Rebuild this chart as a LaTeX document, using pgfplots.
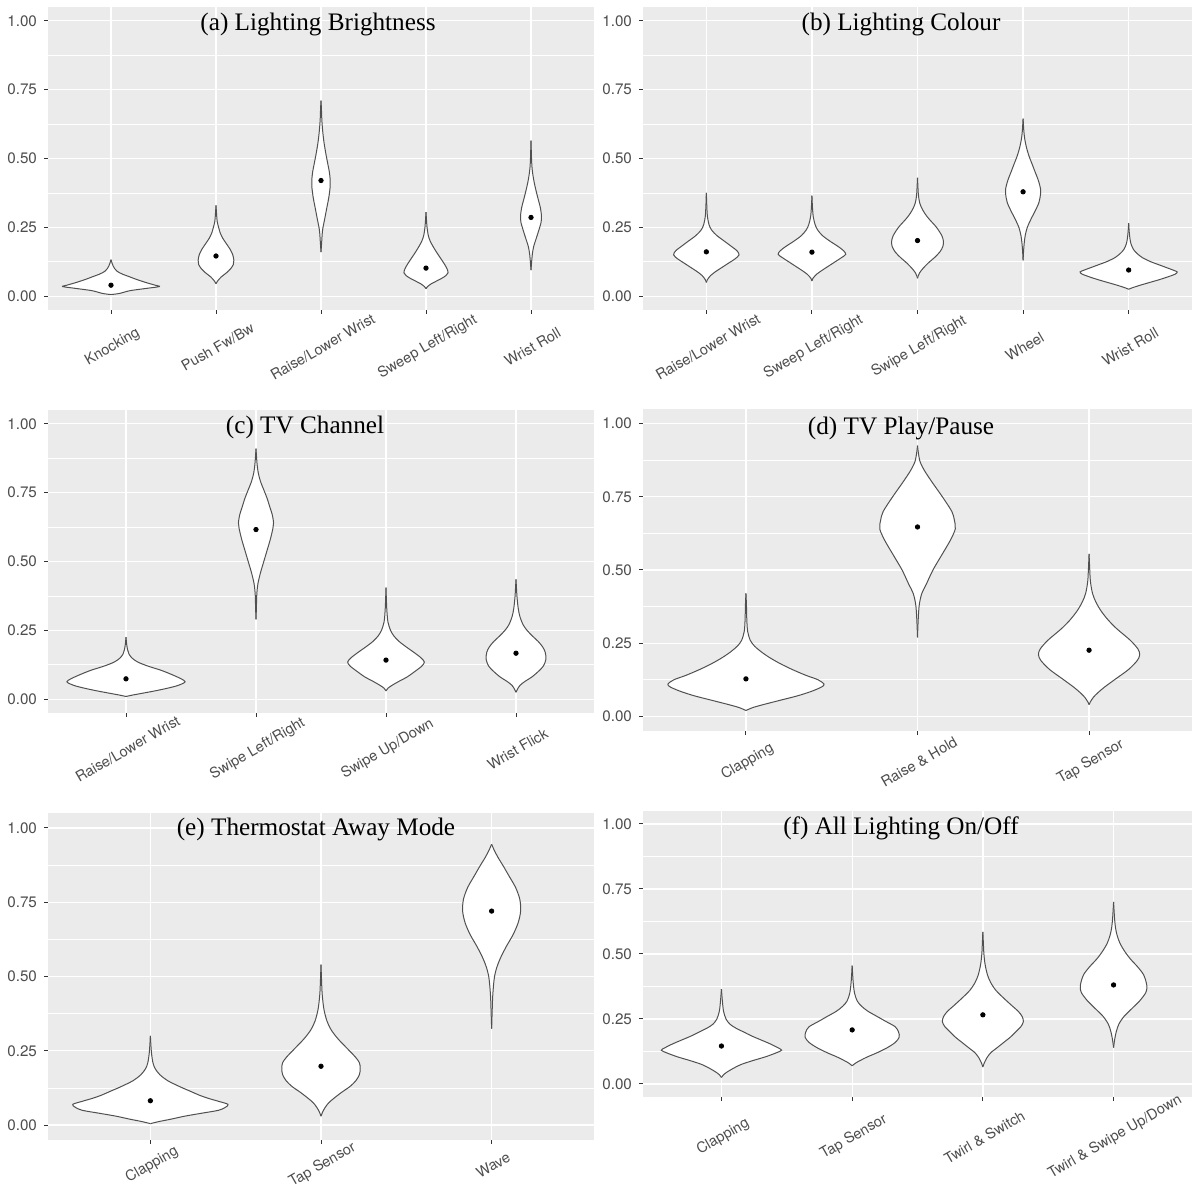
\documentclass[border=0pt]{standalone}
\usepackage{fontspec}
\usepackage{pgfplots}
\usepackage{pgfplotstable}
\pgfplotsset{compat=1.18}
\newfontfamily\gfont{TeX Gyre Heros}
\newfontfamily\tfont{Liberation Serif}
\definecolor{ggbg}{HTML}{EBEBEB}
\definecolor{tickcol}{HTML}{333333}
\definecolor{labcol}{HTML}{4D4D4D}
\definecolor{vcol}{HTML}{505050}
\tikzset{vline/.style={draw=vcol, line width=0.5pt}}

% ---- violin outlines: y = value, w = half width (category units) ----
% (a) Lighting Brightness
\pgfplotstableread[row sep=\\]{y w\\0.006 0\\0.01 0.08\\0.02 0.18\\0.028 0.33\\0.035 0.46\\0.04 0.42\\0.05 0.33\\0.06 0.25\\0.07 0.18\\0.08 0.11\\0.09 0.06\\0.1 0.035\\0.11 0.02\\0.12 0.01\\0.133 0\\}\vaA
\pgfplotstableread[row sep=\\]{y w\\0.045 0\\0.055 0.015\\0.07 0.05\\0.085 0.1\\0.1 0.14\\0.115 0.165\\0.13 0.17\\0.15 0.16\\0.17 0.135\\0.19 0.1\\0.21 0.065\\0.23 0.04\\0.25 0.025\\0.27 0.012\\0.3 0.005\\0.33 0\\}\vaB
\pgfplotstableread[row sep=\\]{y w\\0.16 0\\0.2 0.007\\0.24 0.015\\0.28 0.035\\0.32 0.055\\0.36 0.075\\0.4 0.088\\0.42 0.088\\0.45 0.08\\0.48 0.065\\0.52 0.045\\0.56 0.028\\0.6 0.016\\0.64 0.008\\0.68 0.004\\0.71 0\\}\vaC
\pgfplotstableread[row sep=\\]{y w\\0.027 0\\0.035 0.015\\0.045 0.05\\0.055 0.1\\0.065 0.15\\0.075 0.19\\0.085 0.21\\0.1 0.2\\0.12 0.17\\0.14 0.135\\0.16 0.1\\0.18 0.068\\0.2 0.04\\0.22 0.022\\0.25 0.01\\0.28 0.004\\0.305 0\\}\vaD
\pgfplotstableread[row sep=\\]{y w\\0.095 0\\0.12 0.005\\0.15 0.012\\0.18 0.025\\0.21 0.05\\0.24 0.075\\0.27 0.097\\0.29 0.1\\0.32 0.09\\0.35 0.07\\0.38 0.05\\0.41 0.032\\0.44 0.018\\0.47 0.009\\0.51 0.004\\0.565 0\\}\vaE
% (b) Lighting Colour
\pgfplotstableread[row sep=\\]{y w\\0.05 0\\0.06 0.01\\0.075 0.04\\0.09 0.09\\0.105 0.15\\0.12 0.21\\0.135 0.27\\0.15 0.31\\0.165 0.29\\0.18 0.24\\0.2 0.17\\0.22 0.1\\0.24 0.05\\0.26 0.025\\0.29 0.01\\0.33 0.004\\0.375 0\\}\vbA
\pgfplotstableread[row sep=\\]{y w\\0.055 0\\0.065 0.01\\0.08 0.045\\0.095 0.1\\0.11 0.16\\0.125 0.22\\0.14 0.28\\0.152 0.32\\0.165 0.3\\0.18 0.25\\0.2 0.17\\0.22 0.1\\0.24 0.055\\0.26 0.03\\0.29 0.012\\0.33 0.004\\0.365 0\\}\vbB
\pgfplotstableread[row sep=\\]{y w\\0.065 0\\0.075 0.008\\0.085 0.02\\0.1 0.05\\0.12 0.1\\0.14 0.16\\0.16 0.21\\0.18 0.24\\0.2 0.245\\0.22 0.23\\0.25 0.18\\0.28 0.11\\0.3 0.07\\0.32 0.04\\0.34 0.02\\0.37 0.008\\0.43 0\\}\vbC
\pgfplotstableread[row sep=\\]{y w\\0.13 0\\0.16 0.004\\0.19 0.01\\0.22 0.02\\0.25 0.04\\0.28 0.075\\0.31 0.115\\0.34 0.15\\0.37 0.165\\0.39 0.165\\0.42 0.145\\0.45 0.115\\0.48 0.085\\0.51 0.055\\0.54 0.032\\0.57 0.016\\0.6 0.007\\0.645 0\\}\vbD
\pgfplotstableread[row sep=\\]{y w\\0.025 0\\0.03 0.03\\0.04 0.11\\0.05 0.2\\0.06 0.29\\0.07 0.37\\0.08 0.44\\0.088 0.46\\0.095 0.42\\0.105 0.35\\0.115 0.28\\0.125 0.21\\0.14 0.13\\0.155 0.08\\0.17 0.045\\0.19 0.022\\0.21 0.012\\0.235 0.005\\0.265 0\\}\vbE
% (c) TV Channel
\pgfplotstableread[row sep=\\]{y w\\0.01 0\\0.015 0.05\\0.022 0.13\\0.03 0.22\\0.04 0.32\\0.05 0.4\\0.063 0.455\\0.075 0.42\\0.09 0.35\\0.105 0.27\\0.12 0.17\\0.135 0.09\\0.15 0.045\\0.165 0.022\\0.18 0.012\\0.2 0.005\\0.225 0\\}\vcA
\pgfplotstableread[row sep=\\]{y w\\0.29 0\\0.33 0.003\\0.38 0.006\\0.42 0.015\\0.46 0.035\\0.5 0.06\\0.54 0.085\\0.58 0.11\\0.62 0.13\\0.64 0.135\\0.67 0.125\\0.7 0.105\\0.73 0.085\\0.76 0.06\\0.79 0.035\\0.82 0.018\\0.85 0.009\\0.88 0.004\\0.91 0\\}\vcB
\pgfplotstableread[row sep=\\]{y w\\0.03 0\\0.04 0.015\\0.05 0.045\\0.065 0.1\\0.08 0.16\\0.1 0.22\\0.12 0.275\\0.135 0.295\\0.15 0.27\\0.17 0.215\\0.19 0.155\\0.21 0.1\\0.23 0.06\\0.25 0.035\\0.28 0.015\\0.32 0.007\\0.36 0.003\\0.405 0\\}\vcC
\pgfplotstableread[row sep=\\]{y w\\0.025 0\\0.035 0.01\\0.05 0.03\\0.065 0.07\\0.08 0.12\\0.1 0.17\\0.12 0.21\\0.145 0.23\\0.17 0.225\\0.19 0.205\\0.21 0.17\\0.23 0.125\\0.25 0.085\\0.27 0.055\\0.3 0.03\\0.33 0.017\\0.37 0.008\\0.4 0.004\\0.435 0\\}\vcD
% (d) TV Play/Pause
\pgfplotstableread[row sep=\\]{y w\\0.02 0\\0.03 0.04\\0.04 0.1\\0.055 0.2\\0.07 0.3\\0.085 0.38\\0.1 0.44\\0.11 0.455\\0.125 0.42\\0.14 0.35\\0.16 0.27\\0.18 0.2\\0.2 0.14\\0.22 0.09\\0.24 0.05\\0.26 0.025\\0.29 0.01\\0.33 0.005\\0.38 0.003\\0.42 0\\}\vdA
\pgfplotstableread[row sep=\\]{y w\\0.27 0\\0.33 0.004\\0.38 0.01\\0.42 0.025\\0.45 0.05\\0.5 0.09\\0.55 0.14\\0.6 0.19\\0.64 0.22\\0.67 0.215\\0.7 0.2\\0.75 0.145\\0.8 0.085\\0.84 0.04\\0.87 0.015\\0.9 0.005\\0.925 0\\}\vdB
\pgfplotstableread[row sep=\\]{y w\\0.04 0\\0.05 0.008\\0.065 0.025\\0.08 0.05\\0.1 0.09\\0.13 0.16\\0.16 0.23\\0.19 0.28\\0.21 0.295\\0.23 0.285\\0.26 0.24\\0.3 0.16\\0.33 0.11\\0.36 0.07\\0.39 0.04\\0.42 0.02\\0.46 0.008\\0.5 0.004\\0.555 0\\}\vdC
% (e) Thermostat Away Mode
\pgfplotstableread[row sep=\\]{y w\\0.005 0\\0.012 0.05\\0.02 0.12\\0.03 0.2\\0.04 0.3\\0.05 0.4\\0.06 0.44\\0.07 0.455\\0.08 0.4\\0.09 0.34\\0.1 0.29\\0.115 0.23\\0.13 0.17\\0.15 0.1\\0.17 0.055\\0.19 0.028\\0.21 0.015\\0.24 0.007\\0.27 0.003\\0.3 0\\}\veA
\pgfplotstableread[row sep=\\]{y w\\0.03 0\\0.045 0.01\\0.06 0.025\\0.075 0.045\\0.09 0.075\\0.11 0.12\\0.13 0.17\\0.15 0.205\\0.17 0.225\\0.19 0.23\\0.21 0.225\\0.23 0.2\\0.26 0.15\\0.29 0.1\\0.32 0.06\\0.35 0.035\\0.39 0.017\\0.44 0.007\\0.49 0.003\\0.54 0\\}\veB
\pgfplotstableread[row sep=\\]{y w\\0.325 0\\0.38 0.003\\0.43 0.006\\0.47 0.011\\0.5 0.017\\0.53 0.03\\0.56 0.05\\0.6 0.085\\0.64 0.125\\0.68 0.155\\0.72 0.17\\0.76 0.165\\0.8 0.14\\0.84 0.1\\0.87 0.07\\0.9 0.038\\0.925 0.015\\0.945 0\\}\veC
% (f) All Lighting On/Off
\pgfplotstableread[row sep=\\]{y w\\0.025 0\\0.035 0.015\\0.045 0.04\\0.06 0.09\\0.075 0.15\\0.09 0.24\\0.105 0.34\\0.12 0.42\\0.13 0.46\\0.14 0.43\\0.155 0.37\\0.17 0.3\\0.185 0.23\\0.2 0.17\\0.215 0.11\\0.23 0.065\\0.25 0.035\\0.28 0.016\\0.32 0.007\\0.365 0\\}\vfA
\pgfplotstableread[row sep=\\]{y w\\0.07 0\\0.08 0.025\\0.09 0.06\\0.105 0.12\\0.12 0.19\\0.14 0.27\\0.16 0.33\\0.18 0.36\\0.2 0.355\\0.22 0.33\\0.24 0.26\\0.26 0.19\\0.28 0.12\\0.3 0.07\\0.32 0.038\\0.35 0.018\\0.39 0.008\\0.42 0.004\\0.455 0\\}\vfB
\pgfplotstableread[row sep=\\]{y w\\0.065 0\\0.08 0.01\\0.1 0.03\\0.12 0.06\\0.14 0.11\\0.16 0.16\\0.18 0.21\\0.2 0.25\\0.22 0.29\\0.24 0.31\\0.26 0.3\\0.28 0.27\\0.3 0.225\\0.33 0.16\\0.36 0.1\\0.39 0.06\\0.42 0.035\\0.46 0.017\\0.5 0.008\\0.54 0.004\\0.585 0\\}\vfC
\pgfplotstableread[row sep=\\]{y w\\0.14 0\\0.17 0.008\\0.2 0.02\\0.23 0.04\\0.26 0.08\\0.29 0.14\\0.32 0.2\\0.35 0.245\\0.37 0.255\\0.39 0.25\\0.42 0.23\\0.45 0.185\\0.48 0.13\\0.51 0.085\\0.54 0.05\\0.57 0.028\\0.6 0.015\\0.64 0.007\\0.7 0\\}\vfD

\newcommand{\violin}[2]{%
  \addplot[fill=white, draw=none, smooth] table[x expr=#1+\thisrow{w}, y=y] {#2};
  \addplot[fill=white, draw=none, smooth] table[x expr=#1-\thisrow{w}, y=y] {#2};
  \addplot[vline, smooth] table[x expr=#1+\thisrow{w}, y=y] {#2};
  \addplot[vline, smooth] table[x expr=#1-\thisrow{w}, y=y] {#2};
}

\pgfplotsset{
  gg/.style={
    scale only axis,
    xmin=0.4, ymin=-0.05, ymax=1.05,
    axis background/.style={fill=ggbg},
    axis line style={draw=none},
    tick pos=left,
    tick align=outside,
    major tick length=2pt,
    minor tick length=0pt,
    major tick style={tickcol, line width=0.5pt},
    ytick={0,0.25,0.5,0.75,1},
    yticklabels={0.00,0.25,0.50,0.75,1.00},
    minor ytick={0.125,0.375,0.625,0.875},
    grid=both,
    major grid style={white, line width=0.65pt},
    minor grid style={white, line width=0.3pt},
    yticklabel style={font=\gfont\fontsize{7.6}{9}\selectfont, text=labcol},
    xticklabel style={font=\gfont\fontsize{7.3}{9}\selectfont, text=labcol, inner sep=0.5pt},
  },
  xlab/.style={xticklabel style={anchor=center, yshift=-#1, xshift=0.8pt, rotate=30}},
  dots/.style={only marks, mark=*, mark size=1.1pt, black},
}

\begin{document}
\begin{tikzpicture}
\useasboundingbox (0pt,0pt) rectangle (596pt,593pt);

% (a)
\begin{axis}[gg, at={(24pt,438pt)}, anchor=south west, width=273pt, height=151.5pt,
  xmax=5.6, xtick={1,2,3,4,5},
  xticklabels={Knocking,Push Fw/Bw,Raise/Lower Wrist,Sweep Left/Right,Wrist Roll},
  xlab=16.5pt]
\violin{1}{\vaA}
\violin{2}{\vaB}
\violin{3}{\vaC}
\violin{4}{\vaD}
\violin{5}{\vaE}
\addplot[dots] coordinates {(1,0.04) (2,0.146) (3,0.42) (4,0.102) (5,0.286)};
\end{axis}

% (b)
\begin{axis}[gg, at={(321.5pt,438pt)}, anchor=south west, width=274.5pt, height=151.5pt,
  xmax=5.6, xtick={1,2,3,4,5},
  xticklabels={Raise/Lower Wrist,Sweep Left/Right,Swipe Left/Right,Wheel,Wrist Roll},
  xlab=16.5pt]
\violin{1}{\vbA}
\violin{2}{\vbB}
\violin{3}{\vbC}
\violin{4}{\vbD}
\violin{5}{\vbE}
\addplot[dots] coordinates {(1,0.161) (2,0.16) (3,0.202) (4,0.379) (5,0.095)};
\end{axis}

% (c)
\begin{axis}[gg, at={(24pt,236.5pt)}, anchor=south west, width=273pt, height=151.5pt,
  xmax=4.6, xtick={1,2,3,4},
  xticklabels={Raise/Lower Wrist,Swipe Left/Right,Swipe Up/Down,Wrist Flick},
  xlab=16pt]
\violin{1}{\vcA}
\violin{2}{\vcB}
\violin{3}{\vcC}
\violin{4}{\vcD}
\addplot[dots] coordinates {(1,0.074) (2,0.616) (3,0.142) (4,0.167)};
\end{axis}

% (d)
\begin{axis}[gg, at={(321.5pt,227.5pt)}, anchor=south west, width=274.5pt, height=161pt,
  xmax=3.6, xtick={1,2,3},
  xticklabels={Clapping,Raise \& Hold,Tap Sensor},
  xlab=13.5pt]
\violin{1}{\vdA}
\violin{2}{\vdB}
\violin{3}{\vdC}
\addplot[dots] coordinates {(1,0.128) (2,0.647) (3,0.226)};
\end{axis}

% (e)
\begin{axis}[gg, at={(24pt,23pt)}, anchor=south west, width=273pt, height=163.5pt,
  xmax=3.6, xtick={1,2,3},
  xticklabels={Clapping,Tap Sensor,Wave},
  xlab=10.5pt]
\violin{1}{\veA}
\violin{2}{\veB}
\violin{3}{\veC}
\addplot[dots] coordinates {(1,0.082) (2,0.198) (3,0.72)};
\end{axis}

% (f)
\begin{axis}[gg, at={(321.5pt,44.5pt)}, anchor=south west, width=274.5pt, height=143pt,
  xmax=4.6, xtick={1,2,3,4},
  xticklabels={Clapping,Tap Sensor,Twirl \& Switch,Twirl \& Swipe Up/Down},
  xlab=18pt]
\violin{1}{\vfA}
\violin{2}{\vfB}
\violin{3}{\vfC}
\violin{4}{\vfD}
\addplot[dots] coordinates {(1,0.146) (2,0.208) (3,0.266) (4,0.381)};
\end{axis}

% panel titles
\tikzset{ttl/.style={font=\tfont\fontsize{12.6}{14}\selectfont, inner sep=0pt, anchor=center}}
\node[ttl] at (159pt,581pt) {(a) Lighting Brightness};
\node[ttl] at (450.5pt,581pt) {(b) Lighting Colour};
\node[ttl] at (152.5pt,379.5pt) {(c) TV Channel};
\node[ttl] at (450.5pt,379pt) {(d) TV Play/Pause};
\node[ttl] at (158pt,178.5pt) {(e) Thermostat Away Mode};
\node[ttl] at (450.5pt,179pt) {(f) All Lighting On/Off};
\end{tikzpicture}
\end{document}
